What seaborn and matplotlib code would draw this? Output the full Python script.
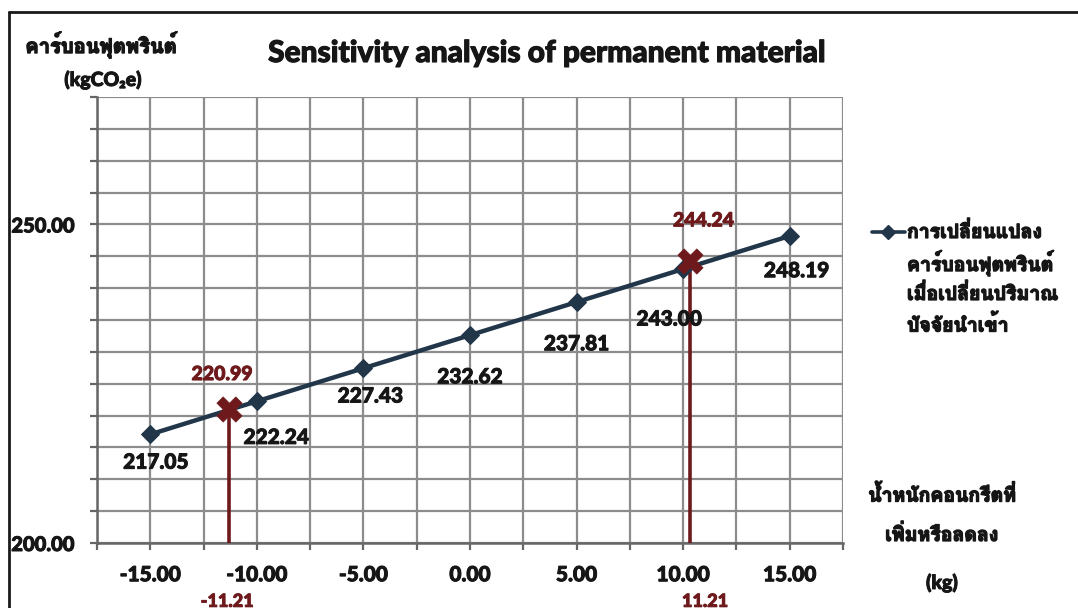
import matplotlib
matplotlib.use("Agg")
import matplotlib.pyplot as plt
import matplotlib.patheffects as pe
from matplotlib.lines import Line2D
from matplotlib.ticker import MultipleLocator, FixedLocator
import seaborn as sns
import pandas as pd

# ---------------- data ----------------
x_change = [-15.0, -10.0, -5.0, 0.0, 5.0, 10.0, 15.0]
carbon = [217.05, 222.24, 227.43, 232.62, 237.81, 243.00, 248.19]
carbon_labels = ["217.05", "222.24", "227.43", "232.62", "237.81", "243.00", "248.19"]

cross_x = [-11.3, 10.3]
cross_y = [220.99, 244.24]
cross_y_labels = ["220.99", "244.24"]
cross_x_values = [-11.21, 11.21]
cross_x_labels = ["-11.21", "11.21"]

xtick_vals = [-15, -10, -5, 0, 5, 10, 15]
xtick_labels = ["-15.00", "-10.00", "-5.00", "0.00", "5.00", "10.00", "15.00"]
ytick_vals = [200, 250]
ytick_labels = ["200.00", "250.00"]

title = "Sensitivity analysis of permanent material"
ylabel_th = "คาร์บอนฟุตพรินต์"
ylabel_unit = "(kgCO\u2082e)"
legend_lines = ["การเปลี่ยนแปลง", "คาร์บอนฟุตพรินต์", "เมื่อเปลี่ยนปริมาณ", "ปัจจัยนำเข้า"]
xlabel_lines = ["น้ำหนักคอนกรีตที่", "เพิ่มหรือลดลง", "(kg)"]

# ---------------- style ----------------
sns.set_theme(style="white")
plt.rcParams["font.family"] = ["Lato", "DejaVu Sans"]
LATIN = ["Lato", "DejaVu Sans"]
THAI = ["Loma", "Sarabun", "DejaVu Sans"]
LW = "black"

NAVY = "#22364a"
DARKRED = "#6e1a1c"
GRID = "#8c8c8c"
TXT = "#161616"


def heavy(color, w=0.9):
    return [pe.withStroke(linewidth=w, foreground=color)]


W, H = 1078, 608
fig = plt.figure(figsize=(W / 100, H / 100), dpi=100)
fig.patch.set_facecolor("white")
ax = fig.add_axes([97 / W, 1 - 543 / H, (843 - 97) / W, (543 - 97) / H])

df = pd.DataFrame({"x": x_change, "y": carbon})
sns.lineplot(data=df, x="x", y="y", ax=ax, color=NAVY, linewidth=3.2,
             marker="D", markersize=9, markeredgecolor=NAVY,
             markerfacecolor=NAVY, zorder=4, legend=False)

cdf = pd.DataFrame({"x": cross_x, "y": cross_y})
ax.vlines(cross_x, 200, cross_y, color=DARKRED, linewidth=2.6, zorder=3)
sns.scatterplot(data=cdf, x="x", y="y", ax=ax, marker="X", s=330,
                color=DARKRED, edgecolor=DARKRED, linewidth=0.5, zorder=5,
                legend=False)

ax.set_xlim(-17.5, 17.5)
ax.set_ylim(200, 270)
ax.xaxis.set_major_locator(FixedLocator(xtick_vals))
ax.xaxis.set_minor_locator(MultipleLocator(2.5))
ax.yaxis.set_major_locator(FixedLocator(ytick_vals))
ax.yaxis.set_minor_locator(MultipleLocator(5))
ax.set_xticklabels(xtick_labels)
ax.set_yticklabels(ytick_labels)
ax.grid(True, which="both", color=GRID, linewidth=1.6)
ax.set_axisbelow(True)
for s in ["top", "right"]:
    ax.spines[s].set_visible(False)
for s in ["left", "bottom"]:
    ax.spines[s].set_color("#666666")
    ax.spines[s].set_linewidth(1.8)
ax.tick_params(which="both", direction="out", length=5, width=1.6,
               color="#666666", bottom=True, left=True)
ax.tick_params(axis="x", which="major", pad=11, labelsize=15, labelcolor=TXT)
ax.tick_params(axis="y", which="major", pad=11, labelsize=14.5, labelcolor=TXT)
for lab in ax.get_xticklabels() + ax.get_yticklabels():
    lab.set_fontweight(LW)
    lab.set_family(LATIN)
    lab.set_path_effects(heavy(TXT, 0.7))
ax.set_xlabel("")
ax.set_ylabel("")

# data labels (offsets in points)
offs = [(4, -20), (14, -26), (5, -20), (0, -30), (0, -30), (-10, -36), (5, -25)]
for xv, yv, lab, (dx, dy) in zip(x_change, carbon, carbon_labels, offs):
    ax.annotate(lab, (xv, yv), xytext=(dx, dy), textcoords="offset points",
                ha="center", va="center", fontsize=15, fontweight=LW,
                color=TXT, family=LATIN, path_effects=heavy(TXT, 0.7))

# cross labels
cross_offs = [(-5, 25), (10, 29)]
for xv, yv, lab, (dx, dy) in zip(cross_x, cross_y, cross_y_labels, cross_offs):
    ax.annotate(lab, (xv, yv), xytext=(dx, dy), textcoords="offset points",
                ha="center", va="center", fontsize=14, fontweight=LW,
                color=DARKRED, family=LATIN, path_effects=heavy(DARKRED, 0.7))
for xv, lab in zip(cross_x_values, cross_x_labels):
    ax.annotate(lab, (xv, 200), xytext=(-3, -42), textcoords="offset points",
                ha="center", va="center", fontsize=13, fontweight=LW,
                color=DARKRED, family=LATIN, annotation_clip=False,
                path_effects=heavy(DARKRED, 0.7))

# legend (handle + wrapped Thai label)
leg_handle = Line2D([872 / W, 888 / W, 905 / W], [1 - 232 / H] * 3,
                    transform=fig.transFigure, color=NAVY, linewidth=2.6,
                    marker="D", markersize=7, markevery=[1],
                    markerfacecolor=NAVY, markeredgecolor=NAVY)
fig.lines.append(leg_handle)
for i, txt in enumerate(legend_lines):
    fig.text(907 / W, 1 - (232 + 31 * i) / H, txt, ha="left", va="center",
             fontsize=14, fontweight="bold", color=TXT, family=THAI,
             path_effects=heavy(TXT, 1.0))

# titles / axis titles
fig.text(548 / W, 1 - 53 / H, title, ha="center", va="center", fontsize=21.5,
         fontweight=LW, color=TXT, family=LATIN, path_effects=heavy(TXT, 0.8))
fig.text(101 / W, 1 - 45 / H, ylabel_th, ha="center", va="center",
         fontsize=14.5, fontweight="bold", color=TXT, family=THAI,
         path_effects=heavy(TXT, 1.0))
fig.text(103 / W, 1 - 80 / H, ylabel_unit, ha="center", va="center",
         fontsize=14, fontweight=LW, color=TXT, family=LATIN,
         path_effects=heavy(TXT, 0.7))
for txt, yy in zip(xlabel_lines, [495, 535, 583]):
    is_unit = txt == "(kg)"
    fig.text(942 / W, 1 - yy / H, txt, ha="center", va="center",
             fontsize=14, fontweight=LW if is_unit else "bold",
             color=TXT, family=LATIN if is_unit else THAI,
             path_effects=heavy(TXT, 0.7 if is_unit else 1.0))

# outer frame (left and top edges visible)
fig.lines.append(Line2D([9 / W, 9 / W], [0, 1 - 12 / H], transform=fig.transFigure,
                        color="#1a1a1a", linewidth=2.0))
fig.lines.append(Line2D([9 / W, 1], [1 - 12 / H, 1 - 12 / H], transform=fig.transFigure,
                        color="#1a1a1a", linewidth=2.0))

fig.savefig("out.png", dpi=100, facecolor="white")
